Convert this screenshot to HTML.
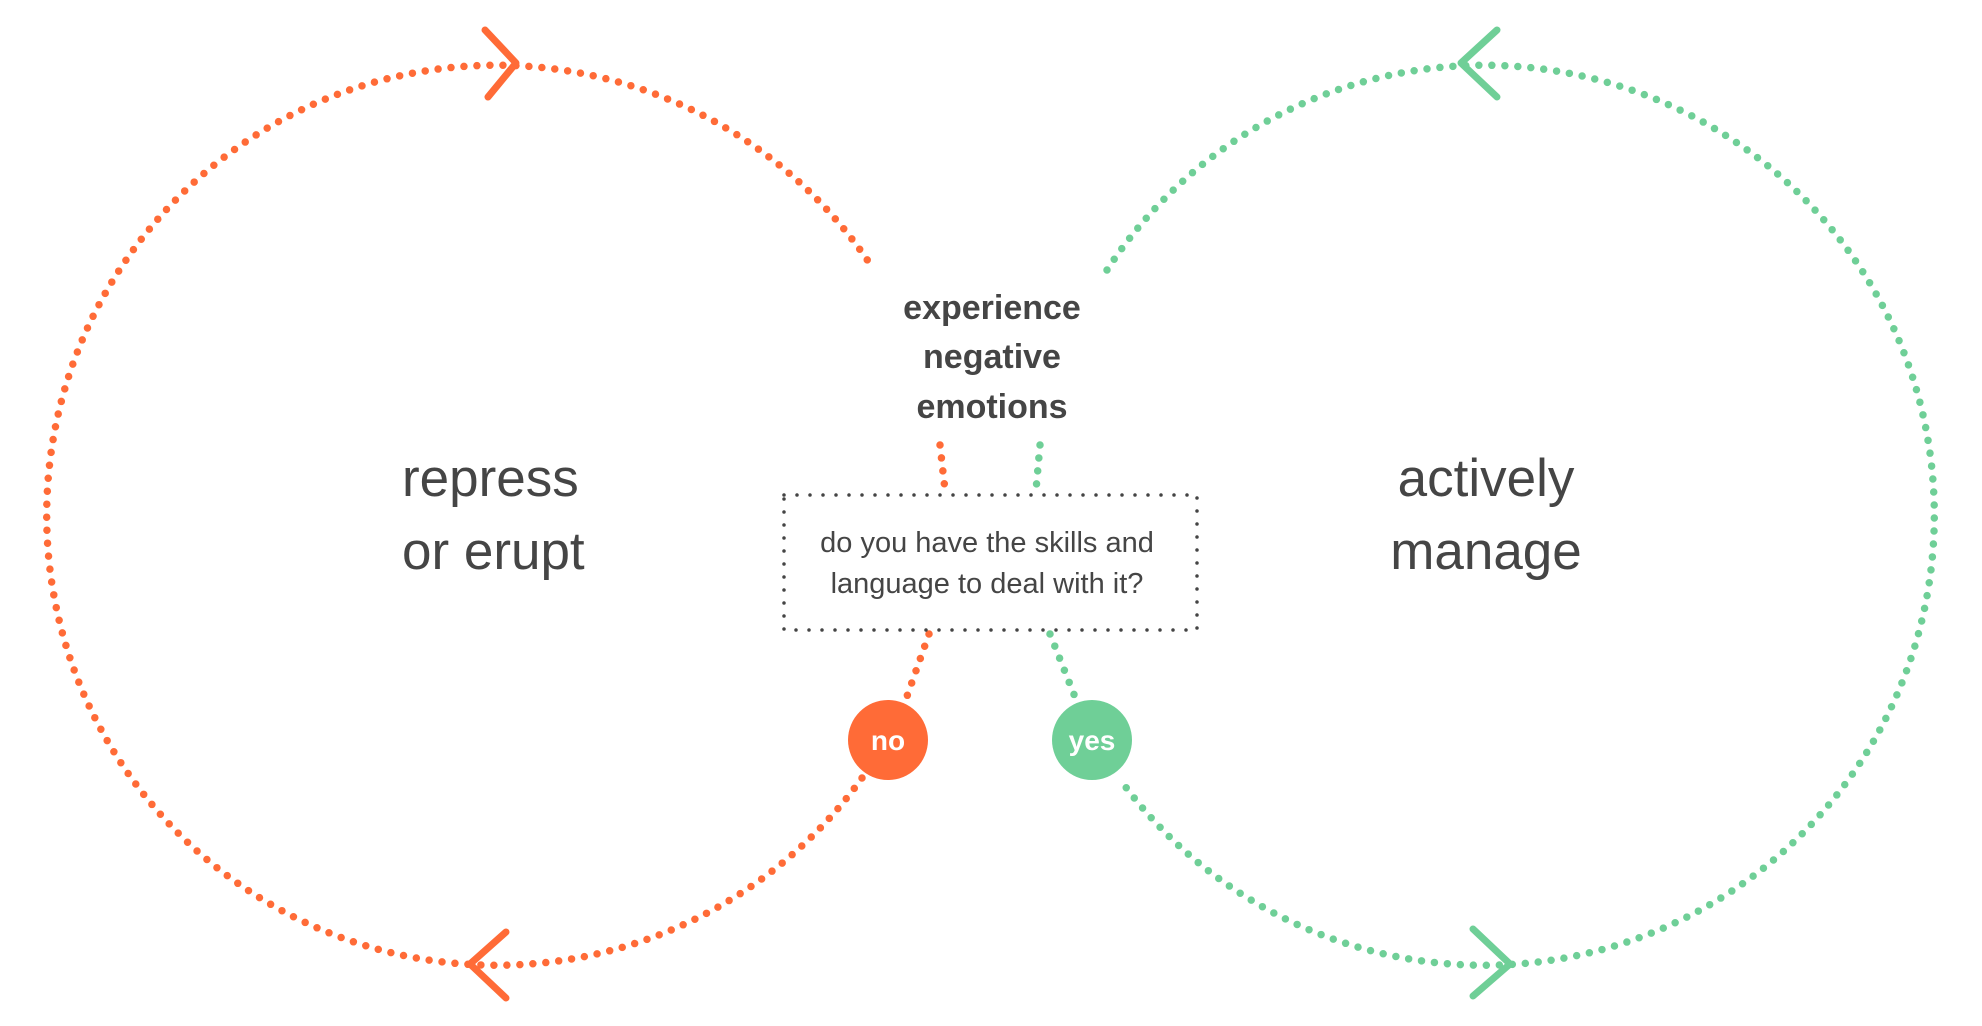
<!DOCTYPE html>
<html><head><style>
body{margin:0;background:#fff;}
svg{display:block;}
text{font-family:"Liberation Sans",sans-serif;fill:#454545;}
</style></head><body>
<svg width="1982" height="1026" viewBox="0 0 1982 1026" xmlns="http://www.w3.org/2000/svg">
<g fill="none" stroke-linecap="round" stroke-width="7.5" stroke-dasharray="0 13">
<path d="M 862 778 A 450 450 0 1 1 874 270" stroke="#FF6B37"/>
<path d="M 1107 270 A 450 450 0 1 1 1119 778" stroke="#6FCF97"/>
<path d="M 940 445 L 945 490" stroke="#FF6B37"/>
<path d="M 1040 445 L 1036 490" stroke="#6FCF97"/>
<path d="M 929 634 L 905 702" stroke="#FF6B37"/>
<path d="M 1050 634 L 1077 702" stroke="#6FCF97"/>
</g>
<g fill="none" stroke-linecap="round" stroke-linejoin="round" stroke-width="7">
<path d="M 485 30 L 516 63 L 488 97" stroke="#FF6B37"/>
<path d="M 506 932 L 470 964 L 506 998" stroke="#FF6B37"/>
<path d="M 1497 30 L 1461 63 L 1497 97" stroke="#6FCF97"/>
<path d="M 1473 929 L 1510 964 L 1473 996" stroke="#6FCF97"/>
</g>
<rect x="784" y="495" width="413" height="135" fill="none" stroke="#444" stroke-width="3.5" stroke-linecap="round" stroke-dasharray="0 13"/>
<g text-anchor="middle" font-weight="bold" font-size="34">
<text x="992" y="319">experience</text>
<text x="992" y="368">negative</text>
<text x="992" y="418">emotions</text>
</g>
<g text-anchor="middle" font-size="29">
<text x="987" y="552">do you have the skills and</text>
<text x="987" y="593">language to deal with it?</text>
</g>
<text x="402" y="496" font-size="53">repress</text>
<text x="402" y="569" font-size="53">or erupt</text>
<g text-anchor="middle" font-size="53">
<text x="1486" y="496">actively</text>
<text x="1486" y="569">manage</text>
</g>
<circle cx="888" cy="740" r="40" fill="#FF6B37"/>
<circle cx="1092" cy="740" r="40" fill="#6FCF97"/>
<g text-anchor="middle" font-weight="bold" font-size="28">
<text x="888" y="750" style="fill:#fff">no</text>
<text x="1092" y="750" style="fill:#fff">yes</text>
</g>
</svg>
</body></html>
